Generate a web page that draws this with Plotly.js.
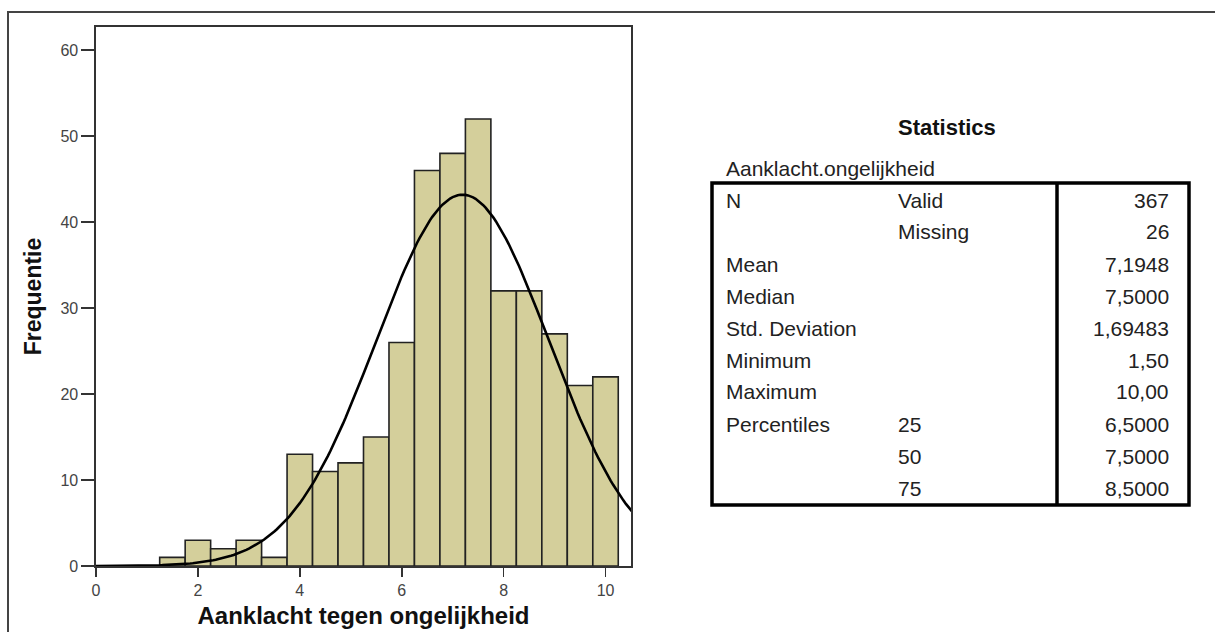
<!DOCTYPE html>
<html>
<head>
<meta charset="utf-8">
<script src="https://cdn.plot.ly/plotly-3.0.1.min.js"></script>
<style>
  html, body { margin: 0; padding: 0; background: #fff; }
  #chart { width: 1215px; height: 632px; }
</style>
</head>
<body>
<div id="chart"></div>
<script>
// ---- Data ----
const binCenters = [1.5, 2.0, 2.5, 3.0, 3.5, 4.0, 4.5, 5.0, 5.5, 6.0, 6.5, 7.0, 7.5, 8.0, 8.5, 9.0, 9.5, 10.0];
const binCounts  = [1, 3, 2, 3, 1, 13, 11, 12, 15, 26, 46, 48, 52, 32, 32, 27, 21, 22];
const binWidth = 0.5;

// Statistics table
const statLabels1 = ["N", "", "Mean", "Median", "Std. Deviation", "Minimum", "Maximum", "Percentiles", "", ""];
const statLabels2 = ["Valid", "Missing", "", "", "", "", "", "25", "50", "75"];
const statValues  = ["367", "26", "7,1948", "7,5000", "1,69483", "1,50", "10,00", "6,5000", "7,5000", "8,5000"];

// Normal curve parameters (from the statistics table)
const nValid = 367;
const meanVal = 7.1948;
const sdVal = 1.69483;

// Normal curve scaled to histogram counts
const curveX = [];
const curveY = [];
for (let i = 0; i <= 220; i++) {
  const x = i * 0.05;
  curveX.push(x);
  const z = (x - meanVal) / sdVal;
  curveY.push(nValid * binWidth * Math.exp(-0.5 * z * z) / (sdVal * Math.sqrt(2 * Math.PI)));
}

// ---- Layout helpers (pixel -> paper) ----
const W = 1215, H = 632;
const mL = 96, mR = W - 631, mT = 27, mB = H - 566;
const pw = W - mL - mR, ph = H - mT - mB;
const px = x => (x - mL) / pw;
const py = y => (H - mB - y) / ph;

const FONT = "Arial, 'Liberation Sans', sans-serif";

const traces = [
  {
    type: "bar",
    x: binCenters,
    y: binCounts,
    width: binWidth,
    marker: { color: "#D4CF9B", line: { color: "#222222", width: 1.6 } },
    hoverinfo: "x+y"
  },
  {
    type: "scatter",
    mode: "lines",
    x: curveX,
    y: curveY,
    line: { color: "#000000", width: 2.6 },
    hoverinfo: "skip"
  }
];

const shapes = [];
// outer frame
shapes.push({ type: "rect", xref: "paper", yref: "paper",
  x0: px(8), x1: px(1240), y0: py(12), y1: py(660),
  line: { color: "#444", width: 2 }, fillcolor: "rgba(0,0,0,0)", layer: "below" });
// table box
const tL = 712, tR = 1189, tT = 183, tB = 505, tD = 1057;
shapes.push({ type: "rect", xref: "paper", yref: "paper",
  x0: px(tL), x1: px(tR), y0: py(tT), y1: py(tB),
  line: { color: "#000", width: 3.5 }, fillcolor: "rgba(0,0,0,0)" });
shapes.push({ type: "line", xref: "paper", yref: "paper",
  x0: px(tD), x1: px(tD), y0: py(tT), y1: py(tB),
  line: { color: "#000", width: 3.5 } });

const TS = 21;
const annotations = [];
annotations.push({ xref: "paper", yref: "paper", x: px(947), y: py(127), text: "<b>Statistics</b>",
  showarrow: false, xanchor: "center", yanchor: "middle", font: { family: FONT, size: 22, color: "#111" } });
annotations.push({ xref: "paper", yref: "paper", x: px(724), y: py(168), text: "Aanklacht.ongelijkheid",
  showarrow: false, xanchor: "left", yanchor: "middle", font: { family: FONT, size: TS, color: "#222" } });
for (let i = 0; i < statValues.length; i++) {
  const yy = py(200 + 32 * i);
  if (statLabels1[i]) annotations.push({ xref: "paper", yref: "paper", x: px(724), y: yy, text: statLabels1[i],
    showarrow: false, xanchor: "left", yanchor: "middle", font: { family: FONT, size: TS, color: "#222" } });
  if (statLabels2[i]) annotations.push({ xref: "paper", yref: "paper", x: px(896), y: yy, text: statLabels2[i],
    showarrow: false, xanchor: "left", yanchor: "middle", font: { family: FONT, size: TS, color: "#222" } });
  annotations.push({ xref: "paper", yref: "paper", x: px(1171), y: yy, text: statValues[i],
    showarrow: false, xanchor: "right", yanchor: "middle", font: { family: FONT, size: TS, color: "#222" } });
}

const layout = {
  width: W, height: H,
  margin: { l: mL, r: mR, t: mT, b: mB, pad: 0 },
  paper_bgcolor: "#fff", plot_bgcolor: "#fff",
  showlegend: false,
  bargap: 0,
  font: { family: FONT },
  xaxis: {
    range: [0, 10.5], tickvals: [0, 2, 4, 6, 8, 10], ticktext: ["0", "2", "4", "6", "8", "10"],
    showgrid: false, zeroline: false,
    showline: true, linecolor: "#333", linewidth: 1.6, mirror: true,
    ticks: "outside", ticklen: 9, tickwidth: 1.6, tickcolor: "#333",
    tickfont: { family: FONT, size: 16, color: "#444" },
    title: { text: "<b>Aanklacht tegen ongelijkheid</b>", font: { family: FONT, size: 24, color: "#111" }, standoff: 9 }
  },
  yaxis: {
    range: [0, 62.7], tickvals: [0, 10, 20, 30, 40, 50, 60],
    showgrid: false, zeroline: false,
    showline: true, linecolor: "#333", linewidth: 1.6, mirror: true,
    ticks: "outside", ticklen: 13, tickwidth: 1.6, tickcolor: "#333",
    tickfont: { family: FONT, size: 16, color: "#444" },
    title: { text: "<b>Frequentie</b>", font: { family: FONT, size: 23, color: "#111" }, standoff: 12 }
  },
  shapes: shapes,
  annotations: annotations
};

Plotly.newPlot("chart", traces, layout, { displayModeBar: false, staticPlot: true });
</script>
</body>
</html>
